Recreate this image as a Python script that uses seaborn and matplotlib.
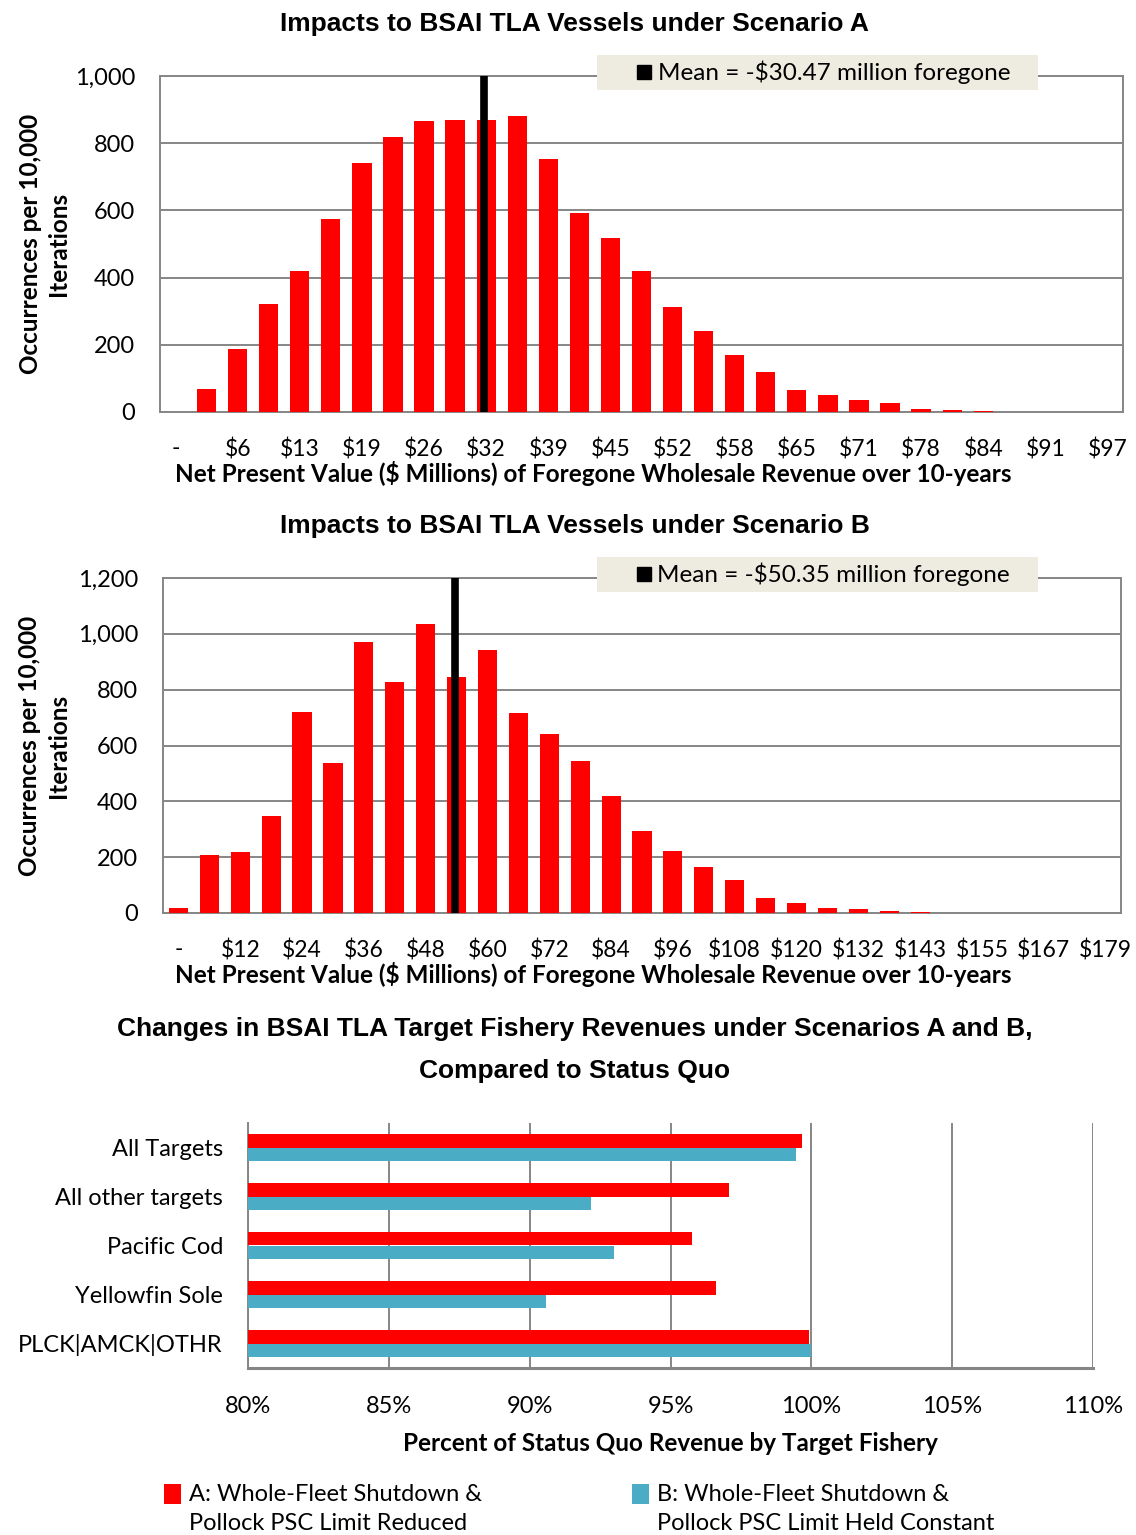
import numpy as np
import pandas as pd
import matplotlib
matplotlib.use('Agg')
import matplotlib.pyplot as plt
from matplotlib.patches import Rectangle
from matplotlib.lines import Line2D
from matplotlib.ticker import StrMethodFormatter
import seaborn as sns

# %%
# Scenario A: occurrences per 10,000 iterations by NPV bin
counts_a = [0, 68, 188, 321, 419, 573, 740, 819, 865, 870, 870, 880, 753, 591, 517, 419,
            313, 242, 171, 120, 65, 52, 36, 26, 10, 5, 2, 0, 1, 0, 0]
labels_a = ['-', '$6', '$13', '$19', '$26', '$32', '$39', '$45', '$52', '$58', '$65',
            '$71', '$78', '$84', '$91', '$97']
bin_width_a = 3.226
mean_a = 30.47

# Scenario B
counts_b = [18, 207, 220, 346, 721, 537, 972, 827, 1034, 845, 941, 716, 641, 543, 418, 295,
            223, 164, 119, 55, 36, 18, 14, 6, 2, 1, 0, 0, 0, 0, 0]
labels_b = ['-', '$12', '$24', '$36', '$48', '$60', '$72', '$84', '$96', '$108', '$120',
            '$132', '$143', '$155', '$167', '$179']
bin_width_b = 5.967
mean_b = 50.35

# Target fishery revenue, % of status quo
fisheries = ['All Targets', 'All other targets', 'Pacific Cod', 'Yellowfin Sole', 'PLCK|AMCK|OTHR']
pct_a = [99.67, 97.07, 95.76, 96.63, 99.92]
pct_b = [99.46, 92.19, 92.98, 90.57, 100.0]
scenario_names = ['A: Whole-Fleet Shutdown &\nPollock PSC Limit Reduced',
                  'B: Whole-Fleet Shutdown &\nPollock PSC Limit Held Constant']

# %%
sns.set_style('white')
plt.rcParams['font.family'] = ['Lato', 'DejaVu Sans']
plt.rcParams['axes.edgecolor'] = '#868686'
plt.rcParams['axes.linewidth'] = 1.4
plt.rcParams['text.color'] = 'black'
plt.rcParams['axes.labelcolor'] = 'black'
plt.rcParams['xtick.labelcolor'] = 'black'
plt.rcParams['ytick.labelcolor'] = 'black'

RED = '#FF0000'
BLUE = '#4BACC6'
GRAY = '#868686'
TITLE_FONT = ['Liberation Sans', 'DejaVu Sans']

fig = plt.figure(figsize=(11.36, 15.35), dpi=100)
W, H = 1136, 1535


def px_axes(left, top, right, bottom):
    return fig.add_axes([left / W, 1 - bottom / H, (right - left) / W, (bottom - top) / H])


def hist_panel(ax, counts, labels, step, mean, ymax, title, title_y, box):
    df = pd.DataFrame({'bin': range(len(counts)), 'count': counts})
    sns.barplot(data=df, x='bin', y='count', color=RED, saturation=1, width=0.62,
                linewidth=0, ax=ax, zorder=3)
    n = len(counts)
    ax.set_xlim(-0.5, n - 0.5)
    ax.set_ylim(0, ymax)
    ax.set_yticks(np.arange(0, ymax + 1, 200))
    ax.yaxis.set_major_formatter(StrMethodFormatter('{x:,.0f}'))
    ax.grid(axis='y', color=GRAY, lw=1.4, zorder=0)
    ax.set_axisbelow(True)
    # category boundaries as ticks, labels on every other bin
    ax.set_xticks(np.arange(-0.5, n, 1.0))
    ax.set_xticklabels([])
    ax.set_xticks(np.arange(0, n, 2), minor=True)
    ax.set_xticklabels(labels, minor=True)
    ax.tick_params(axis='x', which='major', direction='out', length=8, width=1.4, color=GRAY)
    ax.tick_params(axis='x', which='minor', length=0, pad=19, labelsize=16.5)
    ax.tick_params(axis='y', direction='out', length=8, width=1.4, color=GRAY, pad=10, labelsize=17)
    for s in ax.spines.values():
        s.set_color(GRAY)

    # mean line
    ax.axvline(mean / step + 0.5, color='black', lw=5.5, zorder=5)

    ax.set_xlabel('Net Present Value ($ Millions) of Foregone Wholesale Revenue over 10-years',
                  fontsize=17.5, fontweight='bold')
    ax.xaxis.set_label_coords(box[5], -0.147)
    ax.set_ylabel('Occurrences per 10,000\nIterations', fontsize=17.5, fontweight='bold',
                  linespacing=1.3)
    ax.yaxis.set_label_coords(box[4], 0.5)
    fig.text(0.506, title_y, title, ha='center', va='center', fontsize=19,
             fontweight='bold', family=TITLE_FONT)

    # legend box
    x0, x1, y0, y1 = box[:4]
    ax.add_patch(Rectangle((x0, y0), x1 - x0, y1 - y0, transform=ax.transAxes,
                           facecolor='#EEECE1', edgecolor='none', clip_on=False, zorder=6))
    handle = Line2D([], [], marker='s', color='black', linestyle='none', markersize=10.5)
    leg = ax.legend([handle], ['Mean = -$%.2f million foregone' % mean], loc='center',
                    bbox_to_anchor=((x0 + x1) / 2 + 0.005, (y0 + y1) / 2), frameon=False,
                    fontsize=17.5, handletextpad=0.15, borderpad=0, handlelength=0.8)
    leg.set_zorder(7)


ax_a = px_axes(160, 76, 1123, 412)
hist_panel(ax_a, counts_a, labels_a, bin_width_a, mean_a, 1000,
           'Impacts to BSAI TLA Vessels under Scenario A', 1 - 24 / H,
           (0.4538, 0.9117, 0.958, 1.0625, -0.093, 0.45))

ax_b = px_axes(163, 578, 1121, 913)
hist_panel(ax_b, counts_b, labels_b, bin_width_b, mean_b, 1200,
           'Impacts to BSAI TLA Vessels under Scenario B', 1 - 526 / H,
           (0.453, 0.913, 0.958, 1.063, -0.097, 0.449))

# %%
# bottom chart: horizontal grouped bars
ax_c = px_axes(248, 1123, 1093, 1368)
rev = pd.DataFrame({
    'fishery': fisheries * 2,
    'scenario': [scenario_names[0]] * len(fisheries) + [scenario_names[1]] * len(fisheries),
    'pct': pct_a + pct_b,
})
sns.barplot(data=rev, y='fishery', x='pct', hue='scenario', orient='h',
            palette=[RED, BLUE], saturation=1, width=0.57, linewidth=0, ax=ax_c, zorder=3)
ax_c.set_xlim(80, 110)
ax_c.set_ylim(len(fisheries) - 0.5, -0.5)
ax_c.set_xticks(np.arange(80, 111, 5))
ax_c.set_xticklabels(['%d%%' % v for v in range(80, 111, 5)])
ax_c.grid(axis='x', color=GRAY, lw=1.4, zorder=0)
ax_c.set_axisbelow(True)
ax_c.set_yticks(np.arange(-0.5, len(fisheries), 1.0))
ax_c.set_yticklabels([])
ax_c.set_yticks(np.arange(len(fisheries)), minor=True)
ax_c.set_yticklabels(fisheries, minor=True)
ax_c.tick_params(axis='y', which='major', direction='out', length=6, width=1.4, color=GRAY)
ax_c.tick_params(axis='y', which='minor', length=0, pad=18, labelsize=17)
ax_c.tick_params(axis='x', direction='out', length=6, width=1.4, color=GRAY, pad=14, labelsize=17)
ax_c.spines['top'].set_visible(False)
ax_c.spines['right'].set_visible(False)
ax_c.spines['bottom'].set_linewidth(2.2)
ax_c.set_ylabel('')
ax_c.set_xlabel('Percent of Status Quo Revenue by Target Fishery', fontsize=17.5,
                fontweight='bold', labelpad=11)
sns.move_legend(ax_c, 'upper left', bbox_to_anchor=(143 / W, 1 - 1463 / H),
                bbox_transform=fig.transFigure, ncol=2, frameon=False, title=None,
                fontsize=17, handlelength=0.7, handleheight=0.9, handletextpad=0.35,
                columnspacing=6.35, labelspacing=0.2)
leg_c = ax_c.get_legend()
for t in leg_c.get_texts():
    t.set_linespacing(1.45)
for h in leg_c.legend_handles:
    h.set_y(h.get_y() + 11)

fig.text(0.506, 1 - 1050 / H,
         'Changes in BSAI TLA Target Fishery Revenues under Scenarios A and B,\nCompared to Status Quo',
         ha='center', va='center', fontsize=19, fontweight='bold', family=TITLE_FONT,
         linespacing=1.95)

fig.savefig('out.png', dpi=100)
